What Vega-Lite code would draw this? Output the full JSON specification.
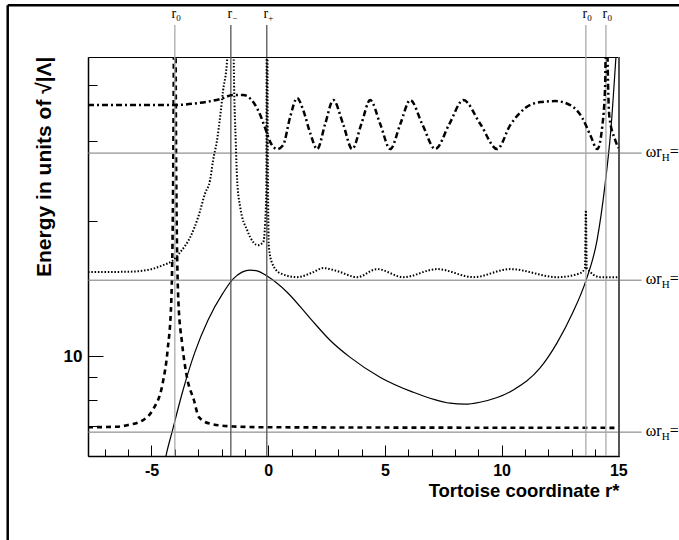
{
  "$schema": "https://vega.github.io/schema/vega-lite/v6.json",
  "width": 531,
  "height": 399,
  "autosize": "none",
  "padding": {"left": 88, "top": 57, "right": 60, "bottom": 84},
  "background": "white",
  "config": {
    "view": {"stroke": "black", "strokeWidth": 1},
    "axis": {
      "grid": false,
      "labelFont": "Liberation Sans",
      "labelFontWeight": "bold",
      "labelColor": "black",
      "titleFont": "Liberation Sans",
      "titleFontWeight": "bold",
      "titleColor": "black",
      "domainColor": "black",
      "tickColor": "black",
      "tickWidth": 1,
      "domainWidth": 1.5,
      "labelOverlap": false,
      "labelFlush": false
    }
  },
  "resolve": {"axis": {"x": "independent", "y": "independent"}},
  "datasets": {
    "curves": [
      {"s": "V", "x": -4.45, "y": 5.75}, {"s": "V", "x": -4.38, "y": 6.0}, {"s": "V", "x": -4.12, "y": 6.78}, {"s": "V", "x": -3.65, "y": 8.4},
      {"s": "V", "x": -3.14, "y": 10.21}, {"s": "V", "x": -2.58, "y": 12.02}, {"s": "V", "x": -1.94, "y": 13.8}, {"s": "V", "x": -1.51, "y": 14.83},
      {"s": "V", "x": -1.12, "y": 15.37}, {"s": "V", "x": -0.78, "y": 15.53}, {"s": "V", "x": -0.44, "y": 15.45}, {"s": "V", "x": -0.05, "y": 15.06},
      {"s": "V", "x": 0.81, "y": 13.87}, {"s": "V", "x": 1.79, "y": 12.15}, {"s": "V", "x": 2.65, "y": 10.85}, {"s": "V", "x": 3.5, "y": 9.95},
      {"s": "V", "x": 4.79, "y": 8.98}, {"s": "V", "x": 6.2, "y": 8.32}, {"s": "V", "x": 7.79, "y": 7.86}, {"s": "V", "x": 8.43, "y": 7.82},
      {"s": "V", "x": 9.07, "y": 7.9}, {"s": "V", "x": 10.48, "y": 8.4}, {"s": "V", "x": 11.64, "y": 9.4}, {"s": "V", "x": 12.37, "y": 10.69},
      {"s": "V", "x": 13.02, "y": 12.4}, {"s": "V", "x": 13.62, "y": 14.75}, {"s": "V", "x": 14.09, "y": 18.1}, {"s": "V", "x": 14.43, "y": 23.99},
      {"s": "V", "x": 14.68, "y": 31.78}, {"s": "V", "x": 14.9, "y": 46.2}, {"s": "V", "x": 15.0, "y": 55.0},

      {"s": "dash", "x": -7.72, "y": 6.95}, {"s": "dash", "x": -6.5, "y": 6.97}, {"s": "dash", "x": -6.0, "y": 7.03}, {"s": "dash", "x": -5.38, "y": 7.2},
      {"s": "dash", "x": -4.95, "y": 7.59}, {"s": "dash", "x": -4.52, "y": 8.71}, {"s": "dash", "x": -4.31, "y": 10.31}, {"s": "dash", "x": -4.15, "y": 13.32},
      {"s": "dash", "x": -4.07, "y": 25.0}, {"s": "dash", "x": -4.0, "y": 100.0}, {"s": "dash", "x": -3.94, "y": 25.0}, {"s": "dash", "x": -3.85, "y": 13.32},
      {"s": "dash", "x": -3.69, "y": 10.69}, {"s": "dash", "x": -3.48, "y": 8.98}, {"s": "dash", "x": -3.18, "y": 7.98}, {"s": "dash", "x": -2.97, "y": 7.32},
      {"s": "dash", "x": -2.5, "y": 7.08}, {"s": "dash", "x": -1.5, "y": 6.98}, {"s": "dash", "x": 0.0, "y": 6.95}, {"s": "dash", "x": 15.0, "y": 6.93},

      {"s": "dot", "x": -7.72, "y": 15.37}, {"s": "dot", "x": -6.0, "y": 15.4}, {"s": "dot", "x": -5.19, "y": 15.53}, {"s": "dot", "x": -4.5, "y": 15.93},
      {"s": "dot", "x": -4.07, "y": 16.34}, {"s": "dot", "x": -3.77, "y": 17.02}, {"s": "dot", "x": -3.34, "y": 18.38}, {"s": "dot", "x": -3.0, "y": 20.36},
      {"s": "dot", "x": -2.7, "y": 23.02}, {"s": "dot", "x": -2.49, "y": 24.61}, {"s": "dot", "x": -2.36, "y": 27.26}, {"s": "dot", "x": -2.19, "y": 30.2},
      {"s": "dot", "x": -2.06, "y": 33.97}, {"s": "dot", "x": -1.93, "y": 39.0}, {"s": "dot", "x": -1.76, "y": 45.5}, {"s": "dot", "x": -1.66, "y": 70.0},
      {"s": "dot", "x": -1.59, "y": 120.0}, {"s": "dot", "x": -1.52, "y": 70.0}, {"s": "dot", "x": -1.46, "y": 40.0}, {"s": "dot", "x": -1.39, "y": 30.0},
      {"s": "dot", "x": -1.33, "y": 24.6}, {"s": "dot", "x": -1.2, "y": 21.44}, {"s": "dot", "x": -0.9, "y": 19.05}, {"s": "dot", "x": -0.64, "y": 17.92},
      {"s": "dot", "x": -0.43, "y": 17.64}, {"s": "dot", "x": -0.21, "y": 17.92}, {"s": "dot", "x": -0.13, "y": 19.75}, {"s": "dot", "x": -0.08, "y": 23.5},
      {"s": "dot", "x": -0.05, "y": 120.0}, {"s": "dot", "x": -0.02, "y": 30.0}, {"s": "dot", "x": 0.03, "y": 17.46}, {"s": "dot", "x": 0.17, "y": 16.09},
      {"s": "dot", "x": 0.51, "y": 15.29}, {"s": "dot", "x": 1.24, "y": 14.98}, {"s": "dot", "x": 1.93, "y": 15.37}, {"s": "dot", "x": 2.36, "y": 15.69},
      {"s": "dot", "x": 2.96, "y": 15.45}, {"s": "dot", "x": 3.81, "y": 14.98}, {"s": "dot", "x": 4.67, "y": 15.61}, {"s": "dot", "x": 5.79, "y": 14.98},
      {"s": "dot", "x": 7.24, "y": 15.61}, {"s": "dot", "x": 8.79, "y": 14.98}, {"s": "dot", "x": 10.37, "y": 15.61}, {"s": "dot", "x": 12.39, "y": 14.98},
      {"s": "dot", "x": 13.37, "y": 15.29}, {"s": "dot", "x": 13.57, "y": 15.69}, {"s": "dot", "x": 13.61, "y": 21.1}, {"s": "dot", "x": 13.65, "y": 15.69},
      {"s": "dot", "x": 14.23, "y": 14.98}, {"s": "dot", "x": 15.0, "y": 14.98},

      {"s": "dd", "x": -7.72, "y": 36.13}, {"s": "dd", "x": -4.07, "y": 36.13}, {"s": "dd", "x": -3.04, "y": 36.49}, {"s": "dd", "x": -2.06, "y": 37.25},
      {"s": "dd", "x": -1.5, "y": 38.02}, {"s": "dd", "x": -1.07, "y": 38.02}, {"s": "dd", "x": -0.64, "y": 36.68}, {"s": "dd", "x": -0.34, "y": 34.33},
      {"s": "dd", "x": -0.13, "y": 32.11}, {"s": "dd", "x": 0.09, "y": 29.89}, {"s": "dd", "x": 0.39, "y": 28.84}, {"s": "dd", "x": 0.64, "y": 29.43},
      {"s": "dd", "x": 0.94, "y": 33.97}, {"s": "dd", "x": 1.24, "y": 37.44}, {"s": "dd", "x": 1.5, "y": 35.22}, {"s": "dd", "x": 1.8, "y": 31.3},
      {"s": "dd", "x": 2.1, "y": 28.84}, {"s": "dd", "x": 2.44, "y": 32.78}, {"s": "dd", "x": 2.79, "y": 37.06}, {"s": "dd", "x": 3.21, "y": 32.78},
      {"s": "dd", "x": 3.6, "y": 28.84}, {"s": "dd", "x": 3.99, "y": 32.78}, {"s": "dd", "x": 4.37, "y": 37.06}, {"s": "dd", "x": 4.8, "y": 32.78},
      {"s": "dd", "x": 5.23, "y": 28.84}, {"s": "dd", "x": 5.66, "y": 32.78}, {"s": "dd", "x": 6.09, "y": 37.06}, {"s": "dd", "x": 6.6, "y": 32.78},
      {"s": "dd", "x": 7.16, "y": 28.84}, {"s": "dd", "x": 7.76, "y": 32.78}, {"s": "dd", "x": 8.36, "y": 37.06}, {"s": "dd", "x": 9.09, "y": 32.78},
      {"s": "dd", "x": 9.81, "y": 28.84}, {"s": "dd", "x": 10.37, "y": 32.61}, {"s": "dd", "x": 11.01, "y": 35.58}, {"s": "dd", "x": 11.66, "y": 36.68},
      {"s": "dd", "x": 12.3, "y": 36.87}, {"s": "dd", "x": 12.94, "y": 36.13}, {"s": "dd", "x": 13.46, "y": 33.8}, {"s": "dd", "x": 13.8, "y": 30.98},
      {"s": "dd", "x": 14.1, "y": 28.84}, {"s": "dd", "x": 14.31, "y": 32.28}, {"s": "dd", "x": 14.44, "y": 40.44}, {"s": "dd", "x": 14.49, "y": 80.0},
      {"s": "dd", "x": 14.53, "y": 50.0}, {"s": "dd", "x": 14.62, "y": 33.97}, {"s": "dd", "x": 14.87, "y": 30.2}, {"s": "dd", "x": 15.0, "y": 28.99}
    ],
    "levels": [{"E": 28.26}, {"E": 14.75}, {"E": 6.78}],
    "markers": [
      {"r": -4.0, "sub": "0"}, {"r": -1.6, "sub": "−"}, {"r": -0.06, "sub": "+"}, {"r": 13.61, "sub": "0"}, {"r": 14.47, "sub": "0"}
    ]
  },
  "layer": [
    {
      "data": {"name": "curves"},
      "transform": [{"filter": {"field": "s", "equal": "V"}}],
      "mark": {"type": "line", "clip": true, "color": "black", "strokeWidth": 1.2, "interpolate": "monotone"},
      "encoding": {
        "x": {
          "field": "x", "type": "quantitative",
          "scale": {"domain": [-7.72, 15.03], "nice": false, "zero": false},
          "axis": {
            "orient": "bottom",
            "values": [-5, 0, 5, 10, 15],
            "labelExpr": "'' + datum.value",
            "tickSize": -11,
            "labelPadding": 17,
            "labelFontSize": 16,
            "title": "Tortoise coordinate r*",
            "titleFontSize": 18.5,
            "titleX": 531,
            "titleY": 40,
            "titleAlign": "right",
            "titleAnchor": "end",
            "titleBaseline": "alphabetic"
          }
        },
        "y": {
          "field": "y", "type": "quantitative",
          "scale": {"type": "log", "domain": [6, 46.2], "nice": false},
          "axis": {
            "orient": "left",
            "values": [10],
            "labelExpr": "'10'",
            "tickSize": -15,
            "labelPadding": 21,
            "labelFontSize": 17,
            "title": "Energy in units of √|Λ|",
            "titleFontSize": 21,
            "titleX": -44,
            "titleY": -1,
            "titleAngle": -90,
            "titleAlign": "right",
            "titleAnchor": "end",
            "titleBaseline": "middle"
          }
        }
      }
    },
    {
      "data": {"name": "curves"},
      "transform": [{"filter": {"field": "s", "equal": "dash"}}],
      "mark": {"type": "line", "clip": true, "color": "black", "strokeWidth": 2.6, "strokeDash": [5, 4], "interpolate": "monotone"},
      "encoding": {
        "x": {
          "field": "x", "type": "quantitative",
          "axis": {
            "orient": "bottom",
            "values": [-7, -6, -4, -3, -2, -1, 1, 2, 3, 4, 6, 7, 8, 9, 11, 12, 13, 14],
            "labels": false,
            "domain": false,
            "tickSize": -7,
            "title": null
          }
        },
        "y": {
          "field": "y", "type": "quantitative",
          "axis": {
            "orient": "left",
            "values": [7, 8, 9, 20, 30, 40],
            "labels": false,
            "domain": false,
            "tickSize": -9,
            "title": null
          }
        }
      }
    },
    {
      "data": {"name": "levels"},
      "mark": {"type": "rule", "color": "#777", "strokeWidth": 1, "clip": false},
      "encoding": {
        "x": {"datum": -7.72, "type": "quantitative", "axis": null},
        "x2": {"datum": 16.0},
        "y": {"field": "E", "type": "quantitative", "axis": null}
      }
    },
    {
      "data": {"name": "markers"},
      "mark": {"type": "rule", "strokeWidth": 1.3, "clip": false},
      "encoding": {
        "x": {"field": "r", "type": "quantitative", "axis": null},
        "y": {"datum": 6, "type": "quantitative", "axis": null},
        "y2": {"datum": 54.4},
        "color": {"condition": {"test": "datum.sub == '0'", "value": "#aaaaaa"}, "value": "#555555"}
      }
    },
    {
      "data": {"values": [{}]},
      "mark": {"type": "rule", "color": "#555555", "strokeWidth": 2, "clip": false},
      "encoding": {
        "x": {"datum": 15.03, "type": "quantitative", "axis": null},
        "y": {"datum": 6, "type": "quantitative", "axis": null},
        "y2": {"datum": 46.2}
      }
    },
    {
      "data": {"name": "curves"},
      "transform": [{"filter": {"field": "s", "equal": "dd"}}],
      "mark": {"type": "line", "clip": true, "color": "black", "strokeWidth": 2.5, "strokeDash": [6, 3, 2, 3], "interpolate": "monotone"},
      "encoding": {
        "x": {"field": "x", "type": "quantitative", "axis": null},
        "y": {"field": "y", "type": "quantitative", "axis": null}
      }
    },
    {
      "data": {"name": "curves"},
      "transform": [{"filter": {"field": "s", "equal": "dot"}}],
      "mark": {"type": "line", "clip": true, "color": "black", "strokeWidth": 2, "strokeDash": [1.5, 1.8], "interpolate": "monotone"},
      "encoding": {
        "x": {"field": "x", "type": "quantitative", "axis": null},
        "y": {"field": "y", "type": "quantitative", "axis": null}
      }
    },
    {
      "data": {"name": "markers"},
      "mark": {"type": "text", "font": "Liberation Serif", "fontSize": 14, "align": "center", "baseline": "alphabetic", "dx": -1, "color": "black", "clip": false},
      "encoding": {
        "x": {"field": "r", "type": "quantitative", "axis": null},
        "y": {"datum": 56.4, "type": "quantitative", "axis": null},
        "text": {"value": "r"}
      }
    },
    {
      "data": {"name": "markers"},
      "mark": {"type": "text", "font": "Liberation Serif", "fontSize": 9, "align": "left", "baseline": "alphabetic", "dx": 1.5, "color": "black", "clip": false},
      "encoding": {
        "x": {"field": "r", "type": "quantitative", "axis": null},
        "y": {"datum": 55.5, "type": "quantitative", "axis": null},
        "text": {"field": "sub"}
      }
    },
    {
      "data": {"name": "levels"},
      "mark": {"type": "text", "font": "Liberation Serif", "fontSize": 16, "align": "left", "baseline": "alphabetic", "dy": 4, "color": "black", "clip": false},
      "encoding": {
        "x": {"datum": 16.18, "type": "quantitative", "axis": null},
        "y": {"field": "E", "type": "quantitative", "axis": null},
        "text": {"value": "ωr"}
      }
    },
    {
      "data": {"name": "levels"},
      "mark": {"type": "text", "font": "Liberation Serif", "fontSize": 11, "align": "left", "baseline": "alphabetic", "dx": 16, "dy": 8, "color": "black", "clip": false},
      "encoding": {
        "x": {"datum": 16.18, "type": "quantitative", "axis": null},
        "y": {"field": "E", "type": "quantitative", "axis": null},
        "text": {"value": "H"}
      }
    },
    {
      "data": {"name": "levels"},
      "mark": {"type": "text", "font": "Liberation Serif", "fontSize": 16, "align": "left", "baseline": "alphabetic", "dx": 24, "dy": 4, "color": "black", "clip": false},
      "encoding": {
        "x": {"datum": 16.18, "type": "quantitative", "axis": null},
        "y": {"field": "E", "type": "quantitative", "axis": null},
        "text": {"value": "="}
      }
    },
    {
      "data": {"values": [{}]},
      "mark": {"type": "rule", "color": "black", "strokeWidth": 2.5, "clip": false},
      "encoding": {
        "x": {"datum": -11.16, "type": "quantitative", "axis": null},
        "x2": {"datum": 18.5},
        "y": {"datum": 60.17, "type": "quantitative", "axis": null}
      }
    },
    {
      "data": {"values": [{}]},
      "mark": {"type": "rule", "color": "black", "strokeWidth": 2.5, "clip": false},
      "encoding": {
        "x": {"datum": -11.16, "type": "quantitative", "axis": null},
        "y": {"datum": 3.7, "type": "quantitative", "axis": null},
        "y2": {"datum": 60.17}
      }
    }
  ]
}
